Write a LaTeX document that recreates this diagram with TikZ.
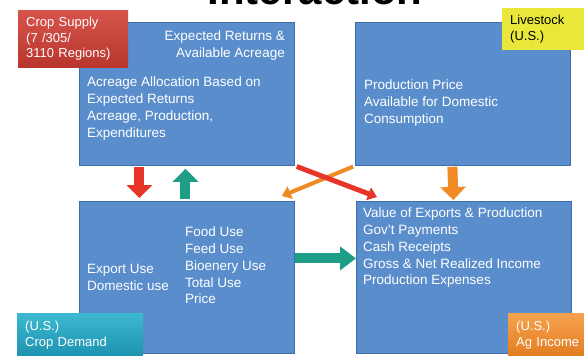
\documentclass[tikz,border=0pt]{standalone}
\usepackage{fontspec}
\setmainfont{Liberation Sans}
\usetikzlibrary{arrows.meta}

\definecolor{boxblue}{HTML}{5A8DCB}
\definecolor{boxedge}{HTML}{3E6EA7}
\definecolor{redarrow}{HTML}{E8352A}
\definecolor{tealarrow}{HTML}{1E9E86}
\definecolor{orangearrow}{HTML}{F08A24}

\tikzset{
  panel/.style={draw=boxedge, line width=0.8pt, fill=boxblue, inner sep=0pt,
    minimum width=215pt, minimum height=143pt, anchor=north west},
  paneltext/.style={text=white, inner sep=0pt, anchor=north west, align=left,
    font=\fontsize{13.5}{16.7}\selectfont},
  tag/.style={inner xsep=8pt, inner ysep=0pt, anchor=north west, align=left,
    font=\fontsize{13}{15.5}\selectfont},
  fatarrow/.style={line width=10pt, -{Triangle[width=25pt,length=13pt]}},
  thinarrow/.style={line width=5pt, -{Triangle[width=13pt,length=9pt]}},
}

\begin{document}
\begin{tikzpicture}[x=1pt,y=-1pt]
\useasboundingbox (0,0) rectangle (584,356);
\clip (0,0) rectangle (584,356);
\fill[white] (0,0) rectangle (584,356);

% heading, mostly above the page
\node[font=\fontsize{42}{42}\selectfont\bfseries, anchor=base] (title) at (315,4.5) {Interaction};

% the four panels:
\node[panel] (supply) at (79,22) {};
\node[panel] (lstock) at (355,22) {};
\node[panel, minimum height=152pt] (demand) at (79,201) {};
\node[panel, minimum height=152pt] (income) at (356,201) {};

\node[paneltext, anchor=north east, align=right] (supply-in) at (285,31) {Expected Returns \&\\Available Acreage};
\node[paneltext] (supply-out) at (87,77) {Acreage Allocation Based on\\Expected Returns\\Acreage, Production,\\Expenditures};
\node[paneltext] (lstock-out) at (364,80) {Production Price\\Available for Domestic\\Consumption};
\node[paneltext] (demand-a) at (87,264) {Export Use\\Domestic use};
\node[paneltext] (demand-b) at (185,227) {Food Use\\Feed Use\\Bioenery Use\\Total Use\\Price};
\node[paneltext] (income-out) at (363,208) {Value of Exports \& Production\\Gov't Payments\\Cash Receipts\\Gross \& Net Realized Income\\Production Expenses};

% corner tags:
\node[tag, top color={rgb,255:red,214;green,84;blue,76}, bottom color={rgb,255:red,184;green,54;blue,46}, text=white,
  text width=94pt, minimum height=57pt] (tag-supply) at (18,10) {Crop Supply\\(7 /305/\\3110 Regions)};
\node[tag, fill={rgb,255:red,233;green,232;blue,58}, text=black,
  text width=74pt, minimum height=42pt] (tag-lstock) at (502,8) {Livestock\\(U.S.)};
\node[tag, top color={rgb,255:red,62;green,184;blue,208}, bottom color={rgb,255:red,28;green,146;blue,175}, text=white,
  text width=110pt, minimum height=44pt] (tag-demand) at (17,313) {(U.S.)\\Crop Demand};
\node[tag, top color={rgb,255:red,246;green,162;blue,78}, bottom color={rgb,255:red,226;green,124;blue,32}, text=white,
  text width=74pt, minimum height=44pt] (tag-income) at (508,313) {(U.S.)\\Ag Income};

% flows between panels:
\draw[fatarrow, draw=redarrow, shorten >=3pt, shorten <=1pt] ([xshift=-47.5pt]supply.south) -- ([xshift=-47.5pt]demand.north);
\draw[fatarrow, draw=tealarrow, shorten >=3pt, shorten <=2pt] ([xshift=-1.5pt]demand.north) -- ([xshift=-1.5pt]supply.south);
\draw[fatarrow, draw=orangearrow, shorten >=1pt, shorten <=1pt] ([xshift=-10.5pt]lstock.south) -- ([xshift=-10.5pt]income.north);
\draw[fatarrow, draw=tealarrow, -{Triangle[width=23pt,length=16pt]}] ([yshift=19pt]demand.east) -- ([yshift=19pt]income.west);

% the cross
\draw[thinarrow, draw=orangearrow, line width=4pt, shorten <=2pt] (lstock.south west) -- ([xshift=-13pt,yshift=5pt]demand.north east);
\draw[thinarrow, draw=redarrow, shorten <=2pt] (supply.south east) -- ([xshift=21pt,yshift=4pt]income.north west);
\end{tikzpicture}
\end{document}
